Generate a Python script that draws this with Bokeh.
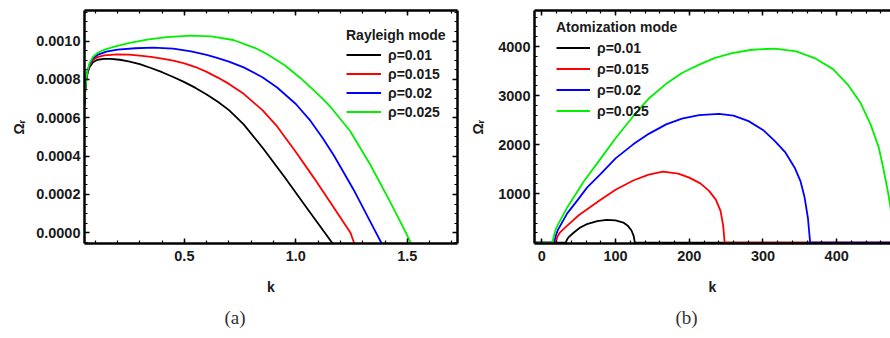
from bokeh.plotting import figure
from bokeh.layouts import row
from bokeh.models import (Range1d, LinearAxis, SingleIntervalTicker, FixedTicker,
                          NumeralTickFormatter, Legend, LegendItem, Title,
                          CustomLabelingPolicy)
from bokeh.embed import file_html
from bokeh.resources import INLINE

# ---------------- data ----------------
rho_labels = ["ρ=0.01", "ρ=0.015", "ρ=0.02", "ρ=0.025"]
colors = ["#000000", "#ff0000", "#0000ff", "#00f000"]

# (a) Rayleigh mode : k and Omega_r
ray_k_001 = [0.052, 0.056, 0.060, 0.066, 0.075, 0.090, 0.110, 0.140, 0.170, 0.210, 0.250,
             0.300, 0.350, 0.400, 0.450, 0.500, 0.550, 0.600, 0.650, 0.700, 0.766, 0.850,
             0.950, 1.050, 1.130, 1.165]
ray_w_001 = [6.70e-4, 7.55e-4, 7.95e-4, 8.35e-4, 8.65e-4, 8.90e-4, 9.03e-4, 9.08e-4, 9.08e-4,
             9.03e-4, 8.95e-4, 8.80e-4, 8.60e-4, 8.38e-4, 8.13e-4, 7.86e-4, 7.56e-4, 7.22e-4,
             6.84e-4, 6.40e-4, 5.66e-4, 4.45e-4, 2.90e-4, 1.28e-4, 0.0, -0.56e-4]
ray_k_0015 = [0.052, 0.056, 0.060, 0.066, 0.075, 0.090, 0.110, 0.140, 0.200, 0.250, 0.300,
              0.350, 0.400, 0.450, 0.500, 0.550, 0.600, 0.650, 0.700, 0.766, 0.850, 0.916,
              1.000, 1.080, 1.155, 1.245, 1.262]
ray_w_0015 = [6.70e-4, 7.57e-4, 7.98e-4, 8.42e-4, 8.75e-4, 9.02e-4, 9.17e-4, 9.26e-4, 9.31e-4,
              9.30e-4, 9.25e-4, 9.18e-4, 9.09e-4, 8.98e-4, 8.84e-4, 8.65e-4, 8.40e-4, 8.10e-4,
              7.77e-4, 7.25e-4, 6.40e-4, 5.55e-4, 4.22e-4, 2.88e-4, 1.58e-4, 0.0, -0.56e-4]
ray_k_002 = [0.052, 0.056, 0.060, 0.066, 0.075, 0.090, 0.110, 0.150, 0.200, 0.280, 0.360,
             0.450, 0.530, 0.600, 0.650, 0.700, 0.766, 0.850, 0.916, 1.000, 1.065, 1.120,
             1.170, 1.259, 1.360, 1.385]
ray_w_002 = [6.70e-4, 7.58e-4, 8.00e-4, 8.45e-4, 8.80e-4, 9.10e-4, 9.28e-4, 9.45e-4, 9.56e-4,
             9.63e-4, 9.66e-4, 9.61e-4, 9.47e-4, 9.28e-4, 9.12e-4, 8.93e-4, 8.63e-4, 8.12e-4,
             7.58e-4, 6.72e-4, 5.85e-4, 4.95e-4, 4.05e-4, 2.25e-4, 0.0, -0.56e-4]
ray_k_0025 = [0.052, 0.056, 0.060, 0.066, 0.075, 0.090, 0.110, 0.140, 0.182, 0.250, 0.333,
              0.420, 0.527, 0.620, 0.720, 0.818, 0.870, 0.950, 1.020, 1.100, 1.155, 1.244,
              1.334, 1.420, 1.494, 1.517]
ray_w_0025 = [6.70e-4, 7.60e-4, 8.02e-4, 8.50e-4, 8.85e-4, 9.18e-4, 9.38e-4, 9.55e-4, 9.70e-4,
              9.90e-4, 10.08e-4, 10.21e-4, 10.29e-4, 10.25e-4, 10.06e-4, 9.64e-4, 9.33e-4,
              8.74e-4, 8.08e-4, 7.22e-4, 6.58e-4, 5.30e-4, 3.55e-4, 1.68e-4, 0.0, -0.56e-4]

# (b) Atomization mode : k and Omega_r
at_k_001 = [-10, 32.2, 34, 36, 43.4, 52, 61.2, 75, 88.1, 100, 110.5, 117, 121.6, 124.5, 126.2, 500]
at_w_001 = [0, 0, 60, 110, 210, 310, 380, 440, 465, 455, 413, 340, 250, 140, 0, 0]
at_k_0015 = [-10, 18.8, 21, 24, 34.4, 50, 79.2, 100, 123.9, 145, 164.2, 185, 200, 215, 226.8,
             236, 242.4, 246, 248, 500]
at_w_0015 = [0, 0, 120, 200, 350, 560, 870, 1080, 1270, 1390, 1449, 1410, 1327, 1210, 1057,
             880, 650, 350, 0, 0]
at_k_002 = [-10, 16.5, 19, 22, 34.4, 50, 61.2, 79.2, 100, 123.9, 145, 168.6, 190, 213.4, 240.3,
            260, 280.5, 300, 316.2, 330, 343, 351, 356.5, 361, 364, 500]
at_w_002 = [0, 0, 150, 270, 600, 900, 1124, 1396, 1720, 2006, 2220, 2413, 2530, 2602, 2628,
            2590, 2480, 2300, 2073, 1850, 1531, 1250, 921, 500, 0, 0]
at_k_0025 = [-10, 14.2, 17, 20, 34.4, 56.8, 79, 100, 123.9, 145, 168.6, 190, 213.4, 235, 258,
             285, 316, 345, 370, 395, 415, 432, 446, 457, 464, 470, 473, 477, 500]
at_w_0025 = [0, 0, 180, 320, 720, 1250, 1700, 2130, 2580, 2940, 3240, 3460, 3632, 3770, 3868,
             3935, 3957, 3900, 3766, 3540, 3226, 2860, 2413, 1950, 1463, 1000, 718, 0, 0]

FONT = "Liberation Sans"
TXT = "#1a1a1a"

NO_LABELS = CustomLabelingPolicy(code="""
for (const i of indices) { indices.unset(i) }
return indices
""")


def style_axis(ax, show_labels=True):
    ax.axis_line_color = "black"
    ax.axis_line_width = 2.5
    ax.major_tick_line_color = "black"
    ax.minor_tick_line_color = "black"
    ax.major_tick_line_width = 1.5
    ax.minor_tick_line_width = 1.2
    ax.major_tick_in = 5
    ax.major_tick_out = 0
    ax.minor_tick_in = 3
    ax.minor_tick_out = 0
    ax.major_label_text_font = FONT
    ax.major_label_text_font_style = "bold"
    ax.major_label_text_color = TXT
    ax.major_label_text_font_size = "14.5px"
    ax.axis_label_text_font = FONT
    ax.axis_label_text_font_style = "bold"
    ax.axis_label_text_font_size = "14px"
    ax.axis_label_text_color = TXT
    if not show_labels:
        ax.major_label_policy = NO_LABELS
        ax.major_label_text_font_size = "0px"
        ax.major_label_standoff = 0


def make_fig(width, x_range, y_range, xticker, yticker, xfmt, yfmt, border_left, border_right,
             mirror_right, tag, tag_offset, ylab_standoff):
    p = figure(width=width, height=338, x_range=x_range, y_range=y_range,
               output_backend="svg", toolbar_location=None, tools="",
               x_axis_type=None, y_axis_type=None,
               min_border_left=border_left, min_border_right=border_right,
               min_border_top=10, min_border_bottom=95)
    p.outline_line_color = None
    p.xgrid.visible = False
    p.ygrid.visible = False
    p.background_fill_color = "white"
    p.border_fill_color = "white"

    xb = LinearAxis(ticker=xticker, axis_label="k")
    if xfmt is not None:
        xb.formatter = xfmt
    style_axis(xb)
    xb.major_label_standoff = 7
    xb.axis_label_standoff = 15
    p.add_layout(xb, "below")

    p.add_layout(Title(text=tag, align="left", offset=tag_offset, standoff=15,
                       text_font="Liberation Serif", text_font_size="19px",
                       text_font_style="normal", text_color="#333333"), "below")

    xt = LinearAxis(ticker=xticker)
    style_axis(xt, show_labels=False)
    p.add_layout(xt, "above")

    yl = LinearAxis(ticker=yticker, axis_label="Ωᵣ")
    if yfmt is not None:
        yl.formatter = yfmt
    style_axis(yl)
    yl.major_label_standoff = 4
    yl.axis_label_standoff = ylab_standoff
    p.add_layout(yl, "left")

    if mirror_right:
        yr = LinearAxis(ticker=yticker)
        style_axis(yr, show_labels=False)
        p.add_layout(yr, "right")
    return p


def add_legend(p, renderers, title, x, y, row_h, gw):
    items = [LegendItem(label=lab, renderers=[r]) for lab, r in zip(rho_labels, renderers)]
    leg = Legend(items=items, location=(x, y), title=title)
    leg.title_text_font = FONT
    leg.title_text_font_style = "bold"
    leg.title_text_font_size = "14px"
    leg.title_text_color = TXT
    leg.title_standoff = 2
    leg.label_text_font = FONT
    leg.label_text_font_style = "bold"
    leg.label_text_font_size = "14px"
    leg.label_text_color = TXT
    leg.label_height = row_h
    leg.glyph_height = row_h
    leg.glyph_width = gw
    leg.label_standoff = 7
    leg.spacing = 0
    leg.padding = 0
    leg.margin = 0
    leg.border_line_color = None
    leg.background_fill_alpha = 0
    p.add_layout(leg, "center")


# ---------------- panel (a) ----------------
pa = make_fig(465, Range1d(0.052, 1.725), Range1d(-0.0000558, 0.00116),
              SingleIntervalTicker(interval=0.5, num_minor_ticks=5),
              SingleIntervalTicker(interval=0.0002, num_minor_ticks=4),
              NumeralTickFormatter(format="0.0"), NumeralTickFormatter(format="0.0000"),
              84, 8, True, "(a)", 140, 6)
ra = []
for kx, wy, c in zip([ray_k_001, ray_k_0015, ray_k_002, ray_k_0025],
                     [ray_w_001, ray_w_0015, ray_w_002, ray_w_0025], colors):
    ra.append(pa.line(kx, wy, line_color=c, line_width=1.8))
add_legend(pa, ra, "Rayleigh mode", 262, 122, 19, 35)

# ---------------- panel (b) ----------------
pb = make_fig(425, Range1d(-10, 473), Range1d(-15, 4735),
              SingleIntervalTicker(interval=100, num_minor_ticks=5),
              FixedTicker(ticks=[1000, 2000, 3000, 4000],
                          minor_ticks=[v for v in range(0, 4800, 200)]),
              None, None, 69, 0, False, "(b)", 141, 9)
rb = []
for kx, wy, c in zip([at_k_001, at_k_0015, at_k_002, at_k_0025],
                     [at_w_001, at_w_0015, at_w_002, at_w_0025], colors):
    rb.append(pb.line(kx, wy, line_color=c, line_width=1.8))
add_legend(pb, rb, "Atomization mode", 22, 122, 21, 34)

layout = row(pa, pb)
open("out.html", "w").write(file_html(layout, INLINE))
